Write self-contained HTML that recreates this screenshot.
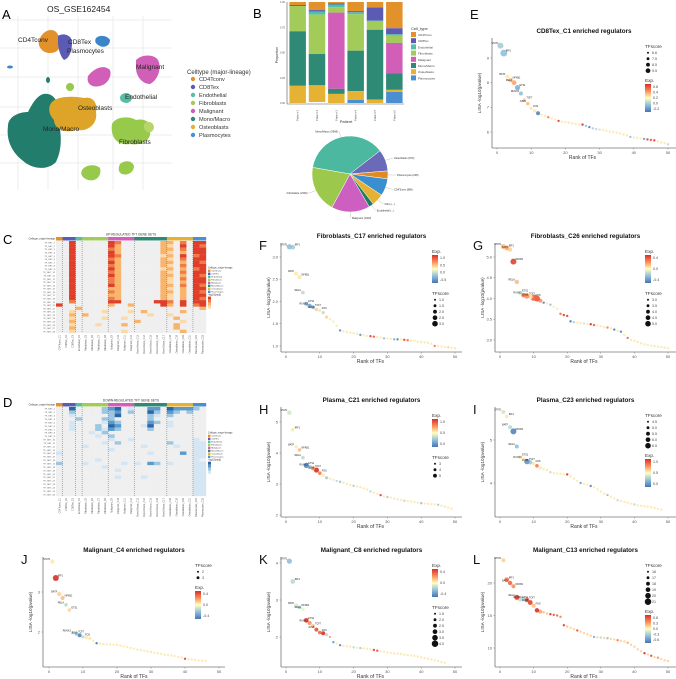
<!DOCTYPE html>
<html><head><meta charset="utf-8"><style>
html,body{margin:0;padding:0;background:#fff;}
svg{display:block;font-family:"Liberation Sans",Arial,sans-serif;}
</style></head><body>
<svg id="fig" width="676" height="679" viewBox="0 0 676 679" xmlns="http://www.w3.org/2000/svg">
<defs>
<linearGradient id="expgrad" x1="0" y1="1" x2="0" y2="0">
<stop offset="0" stop-color="#4575b4"/><stop offset="0.25" stop-color="#91bfdb"/><stop offset="0.5" stop-color="#ffffbf"/><stop offset="0.75" stop-color="#fc8d59"/><stop offset="1" stop-color="#d73027"/>
</linearGradient>
</defs>
<g>
<text x="2" y="19" font-size="13">A</text>
<text x="47" y="12" font-size="8.5" fill="#222">OS_GSE162454</text>
<g stroke="#e6e6e6" stroke-width="0.7">
<line x1="18" y1="16" x2="18" y2="190"/><line x1="48" y1="16" x2="48" y2="190"/><line x1="78" y1="16" x2="78" y2="190"/><line x1="113" y1="16" x2="113" y2="190"/><line x1="143" y1="16" x2="143" y2="190"/>
<line x1="0" y1="20" x2="172" y2="20"/><line x1="0" y1="48" x2="172" y2="48"/><line x1="0" y1="77" x2="172" y2="77"/><line x1="0" y1="107" x2="172" y2="107"/><line x1="0" y1="135" x2="172" y2="135"/><line x1="0" y1="163" x2="172" y2="163"/>
</g>
<g>
<path d="M8,126 C8,116 20,112 28,112 C34,100 40,92 48,94 C58,96 60,110 58,120 C62,134 62,150 56,162 C46,172 30,168 22,160 C12,152 6,140 8,126 Z" fill="#237d6d"/>
<path d="M10,122 C18,114 26,116 26,124 C22,132 14,132 10,122Z" fill="#237d6d"/>
<path d="M52,102 C58,96 74,96 84,98 C92,96 98,102 96,112 C98,124 88,132 76,130 C64,134 54,128 54,120 C48,114 48,106 52,102Z" fill="#dea42a"/>
<path d="M40,38 C44,30 52,28 56,32 C60,36 62,44 58,50 C54,54 46,54 42,50 C38,46 38,42 40,38Z" fill="#e3922b"/>
<path d="M58,36 C64,32 72,36 72,42 C72,50 70,58 64,60 C60,56 58,48 58,42Z" fill="#5b5bb4"/>
<path d="M96,38 C100,34 108,36 110,40 C110,46 104,48 100,46 C96,44 94,42 96,38Z" fill="#3b86c8"/>
<path d="M136,60 C142,54 154,54 158,60 C162,68 158,80 150,84 C142,84 136,76 136,68Z" fill="#d15fb8"/>
<path d="M88,76 C94,68 104,64 110,70 C112,76 108,84 100,86 C92,88 86,84 88,76Z" fill="#d15fb8"/>
<ellipse cx="126" cy="98" rx="6" ry="5" fill="#55bfa5"/>
<path d="M112,124 C116,116 130,116 136,120 C144,118 152,122 150,130 C152,140 142,146 130,144 C118,146 110,138 112,124Z" fill="#97c94a"/>
<path d="M144,124 C148,120 154,122 154,128 C152,134 146,134 144,128Z" fill="#b6d56a"/>
<path d="M82,170 C86,164 96,164 100,168 C102,176 96,182 88,180 C82,178 80,174 82,170Z" fill="#97c94a"/>
<path d="M120,164 C124,160 132,160 134,166 C134,172 128,176 122,174 C118,172 118,168 120,164Z" fill="#97c94a"/>
<ellipse cx="70" cy="87" rx="4" ry="4" fill="#97c94a"/>
<ellipse cx="10" cy="67" rx="3" ry="1.5" fill="#3b86c8"/>
<ellipse cx="48" cy="80" rx="2" ry="3" fill="#237d6d"/>
</g>
<g font-size="6.5" fill="#222">
<text x="18" y="42">CD4Tconv</text><text x="68" y="44">CD8Tex</text><text x="67" y="53">Plasmocytes</text><text x="136" y="69">Malignant</text><text x="125" y="99">Endothelial</text><text x="78" y="110">Osteoblasts</text><text x="43" y="131">Mono/Macro</text><text x="119" y="144">Fibroblasts</text>
</g>
<g id="umapLegend">
<text x="187" y="74" font-size="6" fill="#333">Celltype (major-lineage)</text>
</g>
</g>
<g id="panelB">
<text x="253" y="18" font-size="13">B</text>
</g>
<g id="panelC">
<text x="3" y="244" font-size="13">C</text>
</g>
<g id="panelD">
<text x="3" y="407" font-size="13">D</text>
</g>
<g id="scatters"></g>
</svg>
<script>
const NS="http://www.w3.org/2000/svg";
const cellTypes=["CD4Tconv","CD8Tex","Endothelial","Fibroblasts","Malignant","Mono/Macro","Osteoblasts","Plasmocytes"];
const typeColors=["#e3922b","#5b5bb4","#55bfa5","#a2cb5a","#d15fb8","#2e8a74","#e5b234","#4a90d0"];
const patients=["Patient 1","Patient 2","Patient 3","Patient 4","Patient 5","Patient 6"];
const propCD4=[0.03,0.08,0.015,0.09,0.055,0.26];
const propCD8=[0.01,0.015,0.01,0.012,0.13,0.06];
const propEndo=[0.0,0.03,0.025,0.02,0.01,0.015];
const propFib=[0.25,0.39,0.055,0.36,0.08,0.07];
const propMal=[0.0,0.0,0.755,0.0,0.0,0.30];
const propMono=[0.54,0.31,0.05,0.40,0.69,0.165];
const propOst=[0.17,0.165,0.09,0.088,0.035,0.02];
const propPlas=[0.0,0.0,0.0,0.03,0.0,0.11];
const propTicks=["0.00","0.25","0.50","0.75","1.00"];
const pieLabels=["Mono/Macro (3968)","Osteoblasts (874)","Plasmocytes (208)","CD4Tconv (886)","Fibro (...)","Endothelial (...)","Malignant (1922)","Fibroblasts (2300)"];
const pieValues=[36,9,3.3,7.2,5,2,16,19.5];
const pieColors=["#4cb89f","#6a6ab8","#e08a24","#3a8fd0","#e5b234","#1e7d5e","#cc5fbf","#9cc84c"];
const hmGroupSizes=[1,2,1,4,4,5,4,2];
const C_rows=[
"..4. .... 43.. ....2 2.3. 44","..4. .... 42.. ....2 1.4. 43","..4. .... 32.. ....2 2.3. 44","..4. .... 42.. ....2 1.2. 44",
"..4. .... 43.. ....1 2.4. 34","..4. .... 32.. ....2 1.3. 44","..4. .... 42.. ....2 2.2. 43","..4. .... 32.. ....2 1.3. 44",
"..4. .... 42.. ....1 2.2. 34","..4. .... 32.. ....2 1.3. 44","..4. .... 42.. ....2 2.2. 43","..4. .... 32.. ....2 1.3. 44",
"..4. .... 32.. ....2 1.2. 44","..4. .... 42.. ....2 2.3. 43","..4. .... 22.. ....2 1.2. 44","..4. .... 32.. ....2 2.2. 43",
"..4. .... 22.. ....2 1.2. 44","..4. .... 32.. ....2 1.2. 43","..3. .... 44.. ...44 3.4. 44","4... .... 2..2 ....4 2.4. 34",
"...2 .... .... ..... .... .2","..1. ...1 ...1 .2... ..2. ..","..2. 2... .... ..1.. 1... ..","..1. ...1 ..1. ..... .2.. ..",
"..2. .... .... 2.... ..1. ..","..1. ..1. ..2. ..... .2.. ..","..2. .... .... ..... .2.. ..","..1. .... ..1. ..... ..2. .."];
const D_rows=[
"..4. ...2 34.1 ..33. 4333 2.","..2. ...2 23.2 ..42. 32.2 ..","..1. .... 24.. ..21. 2... ..","...2 ...2 2... ..2.. .... ..",
"..1. ...1 32.. ..32. 1... ..","..1. ..2. 43.. .14.. 1... ..","..1. ..21 32.. ..2.. .... ..",".... .1.2 .... ..... .... ..",
".... ..1. 2... ..... .... ..",".... .... 1..1 ..... .... 1.",".... ...1 .2.. ..... 2... 11",".... 1... .... .1... .1.. 11",
".... .... 1... ..... .... 11","1... .... .... ..1.. ..3. 11",".... .... .... ..... .... 11",".... ..1. .... ..... .... 1.",
"2... 1... ..1. 1.32. 1... 11",".... ...1 .... ..... .... 11",".... .... .1.. ..... .... 11",".... .... .... ..... .... 11",
".... .... .1.. .1... .... 11",".... .... .... ..... .... 11",".... .... .... ..... .... 11",".... .... .... ..... .... 11",
".... .... .... ..... .... 11",".... .... .... ..... .... 11"];
const upColors=["#efefef","#fcd9a8","#f9b46c","#f07c45","#df3f2a"];
const downColors=["#efefef","#d4e5f3","#9dc6e2","#5a9bcc","#2b67a6"];
const tfNames=["STAT1","IRF1","BATF","NFKB1","RELA","ETS1","RUNX3","TCF7","JUNB","FOS","MYC","E2F1"];
const xTicks=[0,10,20,30,40,50];
const E_vals=[9.5,9.2,8.25,8.1,8.0,7.8,7.56,7.3,7.15,6.96,6.85,6.76,6.7,6.65,6.6,6.55,6.5,6.45,6.42,6.4,6.38,6.35,6.33,6.31,6.3,6.25,6.2,6.15,6.12,6.1,6.08,6.05,6.02,6.0,5.97,5.94,5.9,5.86,5.8,5.78,5.76,5.74,5.72,5.7,5.68,5.66,5.62,5.58,5.55,5.5];
const E_exp=[-0.4,-0.5,0.1,0.3,0.4,-0.6,-0.5,0.2,0.3,0.1,0.1,-0.9,0.1,0.1,0.6,0.1,0.1,0.9,0.1,0.1,0.1,0.1,0.1,0.1,1.0,-0.5,-0.9,-0.4,-0.3,-0.2,0.1,0.1,0.1,0.1,0.1,0.1,0.1,0.1,-0.5,0.1,0.1,0.1,-0.7,0.9,0.8,0.9,0.1,0.1,0.1,-0.3];
const E_size=[3,3.4,2,2.2,2.4,2.6,2,1.8,1.8,1.6,1.6,2];
const F_vals=[3.23,3.22,2.63,2.55,2.2,1.95,1.9,1.87,1.82,1.8,1.75,1.65,1.6,1.55,1.45,1.35,1.33,1.31,1.3,1.29,1.27,1.25,1.24,1.23,1.22,1.21,1.2,1.19,1.17,1.17,1.16,1.15,1.15,1.15,1.14,1.13,1.12,1.12,1.1,1.09,1.08,1.07,1.05,1.0,1.0,0.99,0.98,0.97,0.96,0.95];
const F_exp=[-0.5,-0.4,0.1,0.1,-0.3,-0.6,-0.7,-0.5,0.2,0.1,-0.3,0.2,0.1,0.1,0.1,-0.9,0.1,0.1,0.1,0.1,0.1,-0.8,0.1,0.1,0.9,0.8,0.1,0.1,-0.5,0.1,0.1,-0.6,-0.9,0.1,0.9,0.7,0.1,0.1,0.1,0.1,0.1,0.1,0.1,0.6,0.1,0.1,0.1,0.2,0.1,0.1];
const F_size=[2.6,2.4,2,2.2,1.8,2,2.2,2,1.8,1.6,1.6,1.6];
const G_vals=[5.25,5.22,5.18,4.89,4.4,4.13,4.08,4.06,4.04,4.02,4.0,3.95,3.9,3.88,3.85,3.8,3.75,3.63,3.6,3.58,3.45,3.43,3.42,3.41,3.4,3.39,3.38,3.36,3.35,3.33,3.31,3.3,3.28,3.25,3.22,3.2,3.12,3.05,3.0,2.98,2.95,2.92,2.9,2.88,2.86,2.85,2.84,2.83,2.82,2.8];
const G_exp=[0.3,0.4,0.2,0.9,0.3,-0.2,0.6,0.5,0.1,0.7,0.8,0.5,-0.9,0.1,-0.5,0.1,0.1,0.7,0.9,0.9,-1.0,-0.4,0.1,0.1,-0.2,0.1,1.0,0.8,0.1,0.1,0.1,0.6,0.1,-0.9,0.1,-0.9,0.1,0.7,0.1,0.1,0.1,0.1,0.1,0.1,0.1,0.1,0.1,0.1,0.1,0.1];
const G_size=[2.6,2.4,2.2,3,2.2,2,2.2,2.6,2.4,3.2,3,2];
const H_vals=[5.3,4.75,4.2,4.1,3.85,3.6,3.55,3.5,3.45,3.35,3.28,3.2,3.17,3.14,3.1,3.07,3.04,3.0,2.97,2.94,2.92,2.9,2.86,2.82,2.76,2.72,2.68,2.64,2.6,2.58,2.56,2.53,2.5,2.48,2.46,2.45,2.44,2.42,2.4,2.38,2.37,2.36,2.35,2.34,2.33,2.3,2.27,2.24,2.2];
const H_exp=[-0.2,0.1,0.1,0.3,-0.3,-0.9,-0.4,0.5,1.0,0.6,0.1,-0.4,0.1,0.1,-0.3,-0.5,0.1,0.1,0.1,-0.4,0.1,0.1,0.1,0.1,-0.3,0.1,0.1,0.9,0.1,-0.4,0.1,0.1,0.1,0.1,-0.3,0.1,0.1,0.1,0.1,-0.5,0.1,0.1,0.1,0.1,-0.4,0.1,0.1,0.1,0.1];
const H_size=[2.2,1.8,1.6,1.8,1.8,2.6,2,2,2.6,1.8,1.6,1.6];
const I_vals=[5.65,5.55,5.3,5.2,4.85,4.6,4.55,4.5,4.48,4.45,4.4,4.35,4.32,4.3,4.25,4.23,4.22,4.21,4.2,4.2,4.15,4.1,4.05,4.0,3.98,3.96,3.93,3.9,3.85,3.8,3.75,3.72,3.68,3.64,3.6,3.58,3.56,3.54,3.52,3.5,3.48,3.47,3.46,3.45,3.44,3.42,3.4,3.38];
const I_exp=[-0.2,0.1,-0.3,-0.9,-0.5,0.1,0.1,-0.8,-0.4,0.1,0.6,0.1,0.1,0.1,-0.3,0.1,0.1,0.1,0.1,1.0,0.1,0.1,0.1,-0.7,0.1,0.1,-0.9,0.1,0.1,0.1,0.1,-0.5,0.1,0.1,-0.3,0.1,0.1,0.1,0.1,-0.3,0.1,0.1,0.1,0.1,0.1,0.1,0.1,0.1];
const I_size=[2,1.8,2,3,2,1.8,1.8,2.8,2.2,1.6,1.8,1.6];
const J_vals=[3.76,3.35,2.95,2.85,2.68,2.55,1.98,1.95,1.92,1.88,1.86,1.84,1.78,1.72,1.71,1.7,1.69,1.69,1.68,1.68,1.66,1.64,1.62,1.6,1.58,1.56,1.55,1.53,1.51,1.5,1.48,1.47,1.45,1.43,1.42,1.41,1.4,1.38,1.36,1.33,1.32,1.31,1.3,1.29,1.28,1.28];
const J_exp=[0.1,1.0,0.2,0.3,-0.3,0.2,-0.3,-0.5,-0.9,-0.3,0.1,0.1,0.1,-1.0,0.1,0.1,0.1,0.1,0.1,0.1,0.1,0.1,0.1,0.1,0.1,0.1,0.1,0.1,0.1,0.1,0.1,0.1,0.1,0.1,0.1,0.1,0.1,0.1,0.1,0.9,0.1,0.1,0.1,0.1,0.1,0.1];
const J_size=[2,3,2.2,2,1.8,1.8,1.6,1.6,2,1.6,1.6,1.6];
const K_vals=[4.05,3.5,2.85,2.8,2.75,2.45,2.38,2.3,2.2,2.12,2.1,2.06,2.0,1.86,1.82,1.78,1.76,1.75,1.74,1.72,1.71,1.7,1.69,1.68,1.67,1.65,1.63,1.61,1.6,1.58,1.57,1.56,1.55,1.54,1.52,1.51,1.5,1.49,1.47,1.45,1.43,1.41,1.39,1.37,1.35,1.32,1.3];
const K_exp=[-0.5,-0.3,-0.2,-0.4,-0.1,0.9,0.5,0.3,0.8,0.7,1.0,-0.3,0.4,-0.8,0.1,-0.9,0.1,0.1,0.1,-0.3,0.1,-0.4,0.1,0.1,0.1,0.9,0.8,0.1,0.1,0.1,0.1,0.1,0.1,0.1,0.1,0.1,0.1,0.1,0.1,0.1,0.1,0.1,0.1,0.1,0.1,0.1,0.1];
const K_size=[2.6,2.4,2,1.8,1.8,2.4,2,1.8,2,1.8,2,1.6];
const L_vals=[23.5,20.5,20.0,19.5,17.8,17.5,17.5,17.4,17.0,16.5,15.8,15.6,15.5,15.3,15.2,15.1,15.0,14.8,13.5,13.3,13.1,12.9,12.7,12.5,12.3,12.1,11.9,11.7,11.65,11.6,11.55,11.5,11.4,11.3,11.2,11.1,11.0,10.8,10.5,10.2,9.8,9.5,9.2,9.0,8.8,8.6,8.5,8.3,8.1,8.0];
const L_exp=[0.2,0.6,0.7,0.5,0.9,-0.3,-0.4,0.8,0.9,0.3,1.0,0.4,0.3,0.3,1.0,0.8,0.7,0.6,0.9,0.3,0.2,0.2,0.8,0.2,0.2,0.2,0.2,-0.6,0.2,-0.3,0.2,-0.5,0.2,0.2,0.6,0.2,0.2,0.4,0.2,0.2,0.2,0.2,1.0,0.2,0.9,0.2,0.5,0.2,0.2,0.2];
const L_size=[2,2.4,2.2,2,2.6,2.2,2.2,2.4,2.4,2,2.2,2];

function el(tag,attrs,parent,txt){const e=document.createElementNS(NS,tag);for(const k in attrs)e.setAttribute(k,attrs[k]);if(txt!==undefined)e.textContent=txt;(parent||document.getElementById('fig')).appendChild(e);return e;}
function lerp(a,b,t){return a+(b-a)*t;}
const stops=[[69,117,180],[145,191,219],[255,255,191],[252,141,89],[215,48,39]];
function expColor(v){v=Math.max(-1,Math.min(1,v));const p=(v+1)/2*4;const i=Math.min(3,Math.floor(p));const t=p-i;const a=stops[i],b=stops[i+1];return `rgb(${Math.round(lerp(a[0],b[0],t))},${Math.round(lerp(a[1],b[1],t))},${Math.round(lerp(a[2],b[2],t))})`;}

(function(){const g=document.getElementById('umapLegend');
cellTypes.forEach((c,i)=>{const y=81+i*8;
const d=el('circle',{cx:193,cy:y-2,r:2.2,fill:typeColors[i]},g);


const t=el('text',{x:199,y:y,'font-size':5.6,fill:'#333'},g,c);

});})();

(function(){const g=document.getElementById('panelB');
const left=288,right=404,top=2,bot=103;
const yS=v=>bot-v*(bot-top);
const series=[propCD4,propCD8,propEndo,propFib,propMal,propMono,propOst,propPlas];
const bw=16.5,step=(right-left)/patients.length;
patients.forEach((p,j)=>{let cum=1;const cx=left+step*(j+0.5);
series.forEach((s,k)=>{const v=s[j];if(v<=0)return;
const r=el('rect',{x:cx-bw/2,y:yS(cum),width:bw,height:Math.max(0,yS(cum-v)-yS(cum)),fill:typeColors[k]},g);


cum-=v;});
const lbl=el('text',{x:cx+1,y:110,'font-size':2.8,fill:'#555',transform:`rotate(-90 ${cx+1} 110)`,'text-anchor':'end'},g,p);

});
el('line',{x1:left-1,y1:top,x2:left-1,y2:bot+1,stroke:'#555','stroke-width':0.6},g);
el('line',{x1:left-1,y1:bot+1,x2:right,y2:bot+1,stroke:'#555','stroke-width':0.6},g);
propTicks.forEach((t,i)=>{const y=yS(parseFloat(t));const tx=el('text',{x:left-3,y:y+1,'font-size':2.6,'text-anchor':'end',fill:'#555'},g,t);

});
const yl=el('text',{x:278,y:55,'font-size':3.6,fill:'#333','text-anchor':'middle',transform:'rotate(-90 278 55)'},g,'Proportion');


const xl=el('text',{x:346,y:123,'font-size':4,fill:'#333','text-anchor':'middle'},g,'Patient');


const lt=el('text',{x:411,y:30,'font-size':4,fill:'#333'},g,'Cell_type');


cellTypes.forEach((c,i)=>{const y=32+i*6.2;el('rect',{x:411,y:y,width:5,height:5,fill:typeColors[i]},g);
const t=el('text',{x:418,y:y+4,'font-size':3,fill:'#444'},g,c);

});
const cx=350,cy=174,R=38;const tot=pieValues.reduce((a,b)=>a+b,0);let ang=190*Math.PI/180;
pieValues.forEach((v,i)=>{const a2=ang+v/tot*2*Math.PI;
const x1=cx+R*Math.cos(ang),y1=cy+R*Math.sin(ang),x2=cx+R*Math.cos(a2),y2=cy+R*Math.sin(a2);
const large=(a2-ang)>Math.PI?1:0;
const s=el('path',{d:`M${cx},${cy} L${x1},${y1} A${R},${R} 0 ${large} 1 ${x2},${y2} Z`,fill:pieColors[i],stroke:'#fff','stroke-width':0.5},g);


const m=(ang+a2)/2;const lx=cx+(R+8)*Math.cos(m),ly=cy+(R+6)*Math.sin(m);
el('line',{x1:cx+R*Math.cos(m),y1:cy+R*Math.sin(m),x2:lx,y2:ly,stroke:'#999','stroke-width':0.3},g);
const t=el('text',{x:lx+(Math.cos(m)>0?1:-1),y:ly+1,'font-size':2.6,fill:'#333','text-anchor':Math.cos(m)>0?'start':'end'},g,pieLabels[i]);


ang=a2;});})();

function heatmap(gid,rows,palette,title,x0,x1,annTop,cellTop,cellBot,legendTitle){
const g=document.getElementById(gid);const grid=rows.map(r=>r.replace(/ /g,''));const nc=grid[0].length,nr=grid.length;
const cw=(x1-x0)/nc,rh=(cellBot-cellTop)/nr;
const colGroup=[];hmGroupSizes.forEach((n,gi)=>{for(let k=0;k<n;k++)colGroup.push(gi);});
const tt=el('text',{x:(x0+x1)/2,y:annTop-1.5,'font-size':3.2,'text-anchor':'middle',fill:'#333'},g,title);


const al=el('text',{x:x0-1,y:annTop+2.6,'font-size':2.6,'text-anchor':'end',fill:'#333'},g,'Celltype_major-lineage');


for(let c=0;c<nc;c++){const a=el('rect',{x:x0+c*cw,y:annTop,width:cw+0.2,height:cellTop-annTop-0.5,fill:typeColors[colGroup[c]]},g);

}
for(let r=0;r<nr;r++){for(let c=0;c<nc;c++){const ch=grid[r][c];const v=ch==='.'?0:parseInt(ch);
const cell=el('rect',{x:x0+c*cw,y:cellTop+r*rh,width:cw+0.15,height:rh+0.15,fill:palette[v]},g);

}
const rl=el('text',{x:x0-1,y:cellTop+r*rh+rh*0.8,'font-size':2.2,'text-anchor':'end',fill:'#555'},g,'TF_SET_'+(r+1));

}
let acc=0;hmGroupSizes.forEach((n,gi)=>{acc+=n;if(gi<hmGroupSizes.length-1){el('line',{x1:x0+acc*cw,y1:cellTop,x2:x0+acc*cw,y2:cellBot,stroke:'#444','stroke-width':0.4,'stroke-dasharray':'1,1'},g);}});
for(let c=0;c<nc;c++){const x=x0+c*cw+cw/2+1;const name=cellTypes[colGroup[c]]+'_C'+(c+1);
const t=el('text',{x:x,y:cellBot+2,'font-size':2.4,'text-anchor':'end',fill:'#555',transform:`rotate(-90 ${x} ${cellBot+2})`},g,name);

}
const lx=x1+2,ly=cellTop+(cellBot-cellTop)*0.3;
el('text',{x:lx,y:ly,'font-size':2.4,fill:'#333'},g,'Celltype_major-lineage');
cellTypes.forEach((c,i)=>{el('rect',{x:lx,y:ly+1+i*3,width:2.4,height:2.4,fill:typeColors[i]},g);el('text',{x:lx+3.2,y:ly+3+i*3,'font-size':2.2,fill:'#444'},g,c);});
const by=ly+27;el('text',{x:lx,y:by,'font-size':2.4,fill:'#333'},g,legendTitle);
palette.slice(1).reverse().forEach((p,i)=>{el('rect',{x:lx,y:by+1+i*3,width:3,height:3,fill:p},g);});
}
heatmap('panelC',C_rows,upColors,'UP-REGULATED TFT GENE SETS',56,206,237,241,333,'-log10(padj)');
heatmap('panelD',D_rows,downColors,'DOWN-REGULATED TFT GENE SETS',56,206,403,407,496,'-log10(padj)');

const panels=[
{id:'e',L:'E',title:'CD8Tex_C1 enriched regulators',vals:E_vals,exp:E_exp,size:E_size,axL:492,axR:676,x0:497,x50:668,top:38,bot:148,t1:9,p1:58,t2:6,p2:132,ticks:[6,7,8,9],lx:648,sizeFirst:true,sizeLabs:['6.6','7.5','8.5','9.5'],expLabs:['0.6','0.4','0.2','0.0','-0.2']},
{id:'f',L:'F',title:'Fibroblasts_C17 enriched regulators',vals:F_vals,exp:F_exp,size:F_size,axL:281,axR:462,x0:286,x50:455,top:243,bot:352,t1:3,p1:257,t2:1,p2:346,ticks:[1,1.5,2,2.5,3],lx:435,sizeFirst:false,sizeLabs:['1.0','1.5','2.0','2.5','3.0'],expLabs:['1.0','0.5','0.0','-0.5']},
{id:'g',L:'G',title:'Fibroblasts_C26 enriched regulators',vals:G_vals,exp:G_exp,size:G_size,axL:495,axR:676,x0:500,x50:668,top:243,bot:352,t1:5,p1:257,t2:3,p2:340,ticks:[3,3.5,4,4.5,5],lx:648,sizeFirst:false,sizeLabs:['3.0','3.5','4.0','4.5','5.0'],expLabs:['0.4','0.0','-0.4']},
{id:'h',L:'H',title:'Plasma_C21 enriched regulators',vals:H_vals,exp:H_exp,size:H_size,axL:281,axR:462,x0:286,x50:455,top:407,bot:517,t1:4,p1:453,t2:2,p2:515,ticks:[2,3,4,5],lx:435,sizeFirst:false,sizeLabs:['3','4','5'],expLabs:['1.0','0.5','0.0']},
{id:'i',L:'I',title:'Plasma_C23 enriched regulators',vals:I_vals,exp:I_exp,size:I_size,axL:495,axR:676,x0:500,x50:668,top:407,bot:517,t1:5,p1:440,t2:4,p2:483,ticks:[4,5],lx:648,sizeFirst:true,sizeLabs:['4.5','5.0','5.5','6.0','6.5'],expLabs:['1.0','0.5','0.0']},
{id:'j',L:'J',title:'Malignant_C4 enriched regulators',vals:J_vals,exp:J_exp,size:J_size,axL:43,axR:225,x0:49,x50:219,top:557,bot:667,t1:3,p1:592,t2:2,p2:632,ticks:[2,3],lx:198,sizeFirst:true,sizeLabs:['2','3'],expLabs:['0.4','0.0','-0.4']},
{id:'k',L:'K',title:'Malignant_C8 enriched regulators',vals:K_vals,exp:K_exp,size:K_size,axL:281,axR:462,x0:286,x50:455,top:557,bot:667,t1:4,p1:563,t2:2,p2:637,ticks:[2,3,4],lx:435,sizeFirst:false,sizeLabs:['1.5','2.0','2.5','3.0','3.5','4.0'],expLabs:['0.4','0.0','-0.4']},
{id:'l',L:'L',title:'Malignant_C13 enriched regulators',vals:L_vals,exp:L_exp,size:L_size,axL:495,axR:676,x0:500,x50:668,top:557,bot:667,t1:20,p1:583,t2:10,p2:648,ticks:[10,15,20],lx:648,sizeFirst:true,sizeLabs:['16','17','18','19','20','21'],expLabs:['0.6','0.3','0.0','-0.3','-0.6']}
];
const root=document.getElementById('scatters');
panels.forEach(P=>{
const g=el('g',{},root);


const xS=r=>P.x0+(P.x50-P.x0)*r/50;
const yS=v=>P.p1+(v-P.t1)*(P.p2-P.p1)/(P.t2-P.t1);
const lab=el('text',{x:P.axL-22,y:(P.id==='e'?19:P.top+7),'font-size':13,fill:'#111'},g,P.L);


const tt=el('text',{x:(P.axL+P.axR)/2,y:P.top-5,'font-size':6.3,'font-weight':'bold','text-anchor':'middle',fill:'#111'},g,P.title);


el('line',{x1:P.axL,y1:P.top,x2:P.axL,y2:P.bot,stroke:'#777','stroke-width':0.8},g);
el('line',{x1:P.axL,y1:P.bot,x2:P.axR,y2:P.bot,stroke:'#777','stroke-width':0.8},g);
xTicks.forEach(t=>{const x=xS(t);el('line',{x1:x,y1:P.bot,x2:x,y2:P.bot+1.5,stroke:'#777','stroke-width':0.5},g);
const tx=el('text',{x:x,y:P.bot+6,'font-size':4,'text-anchor':'middle',fill:'#555'},g,String(t));

});
P.ticks.forEach(t=>{const y=yS(t);if(y<P.top-2||y>P.bot)return;el('line',{x1:P.axL-1.5,y1:y,x2:P.axL,y2:y,stroke:'#777','stroke-width':0.5},g);
const tx=el('text',{x:P.axL-3,y:y+1.3,'font-size':4,'text-anchor':'end',fill:'#555'},g,String(P.ticks.some(v=>v%1)?t.toFixed(1):t));

});
const xl=el('text',{x:(P.x0+P.x50)/2,y:P.bot+11,'font-size':5,'text-anchor':'middle',fill:'#333'},g,'Rank of TFs');


const ym=(P.top+P.bot)/2,yx=P.axL-11;
const yl=el('text',{x:yx,y:ym,'font-size':4.6,'text-anchor':'middle',fill:'#333',transform:`rotate(-90 ${yx} ${ym})`},g,'LISA -log10(pvalue)');


for(let i=P.vals.length-1;i>=0;i--){const r=i<P.size.length?P.size[i]:1.2;
const c=el('circle',{cx:xS(i+1),cy:yS(P.vals[i]),r:r,fill:expColor(P.exp[i]),'fill-opacity':0.9},g);

}
for(let i=0;i<10&&i<P.vals.length;i++){
const t=el('text',{x:xS(i+1)+(i%2?2:-2),y:yS(P.vals[i])-1.5,'font-size':2.4,'text-anchor':i%2?'start':'end',fill:'#222'},g,tfNames[i]);

}
function sizeLeg(y0){const t=el('text',{x:P.lx-3,y:y0,'font-size':4.6,fill:'#333'},g,'TFscore');


P.sizeLabs.forEach((s,i)=>{const y=y0+6+i*6;el('circle',{cx:P.lx,cy:y-1.3,r:1+i*0.45,fill:'#111'},g);
const e=el('text',{x:P.lx+4,y:y,'font-size':3.6,fill:'#444'},g,s);

});return y0+6+P.sizeLabs.length*6;}
function expLeg(y0){const t=el('text',{x:P.lx-3,y:y0,'font-size':4.6,fill:'#333'},g,'Exp.');


const bar=el('rect',{x:P.lx-3,y:y0+2,width:6,height:28,fill:'url(#expgrad)'},g);


P.expLabs.forEach((s,i)=>{const y=y0+5+i*(22/Math.max(1,P.expLabs.length-1));el('text',{x:P.lx+5,y:y+1,'font-size':3.6,fill:'#444'},g,s);});return y0+38;}
let y0=P.top+10;
if(P.sizeFirst){y0=sizeLeg(y0)+4;expLeg(y0);}else{y0=expLeg(y0)+4;sizeLeg(y0);}
});
</script>
</body></html>
